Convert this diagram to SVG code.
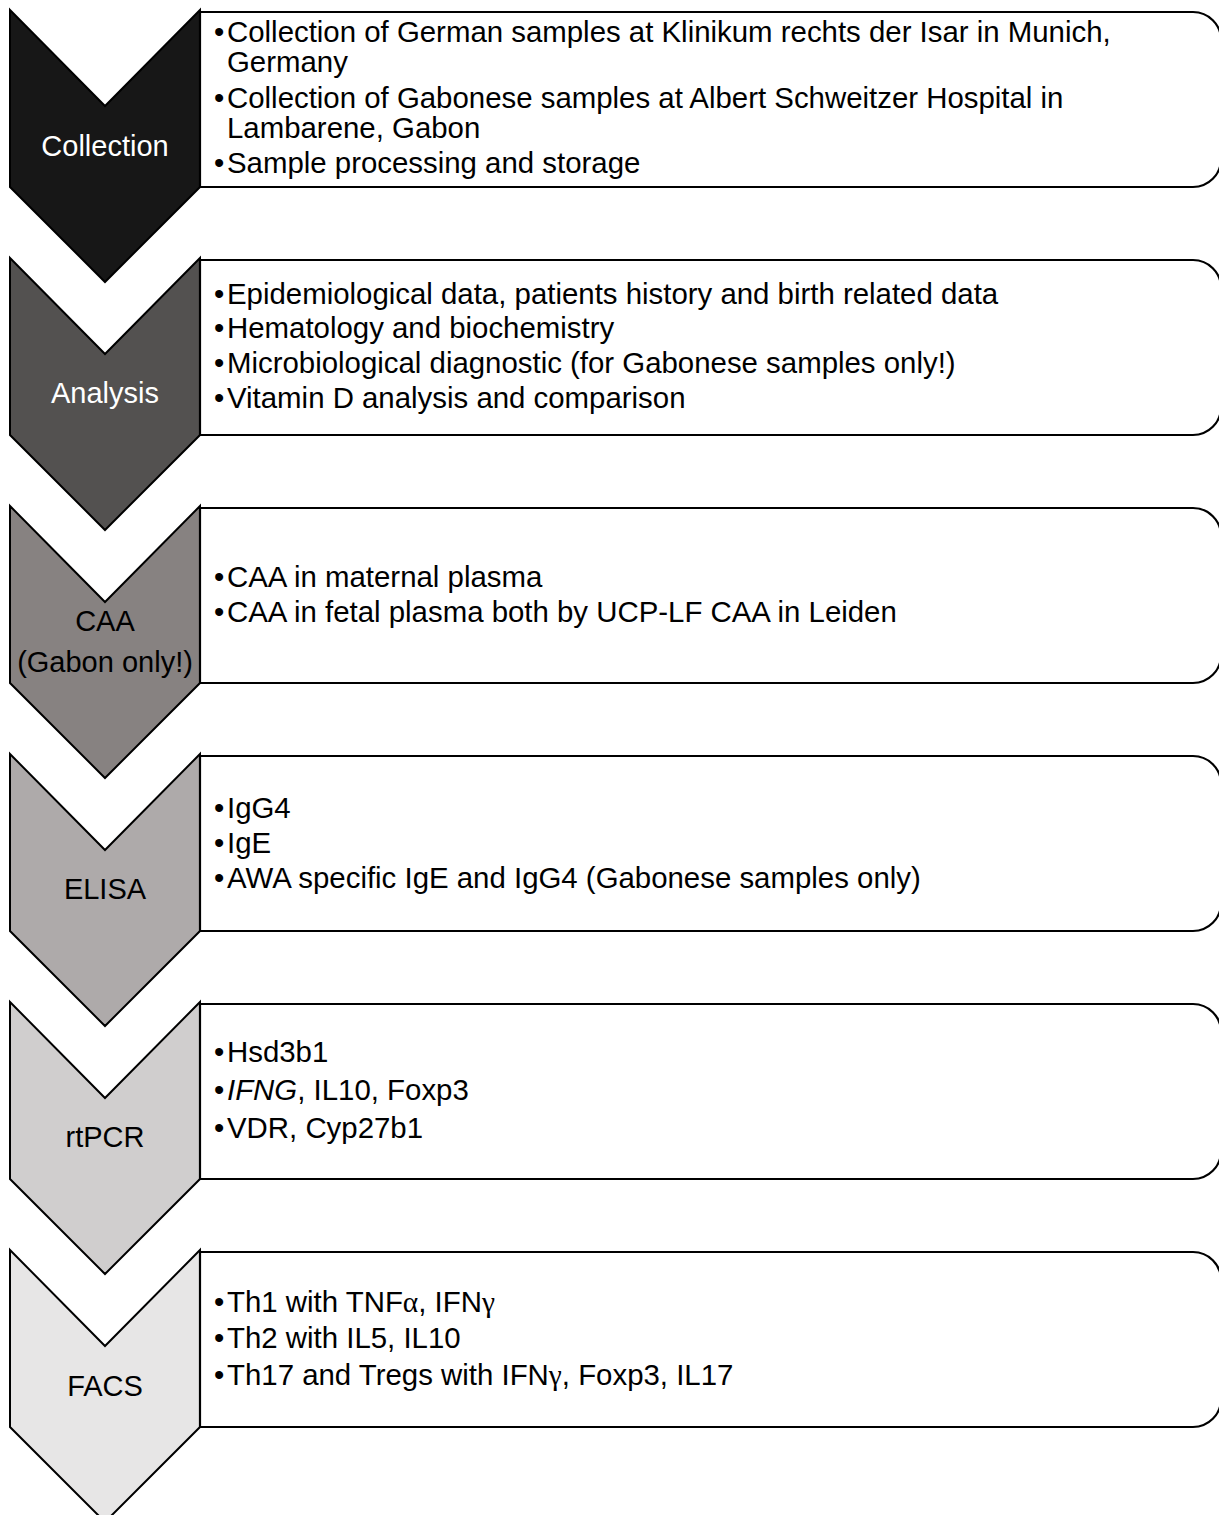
<svg xmlns="http://www.w3.org/2000/svg" width="1219" height="1515" viewBox="0 0 1219 1515">
<style>
.chev{stroke:#000;stroke-width:2;stroke-linejoin:miter}
.box{fill:#fff;stroke:#000;stroke-width:2.2}
text{font-family:"Liberation Sans",Arial,sans-serif;font-size:29.4px;fill:#000}
.lbl{text-anchor:middle;font-size:29px}
.w{fill:#fff}
.g{font-family:"Liberation Serif","Times New Roman",serif}
</style>
<rect width="1219" height="1515" fill="#fff"/>
<g id="connectors"></g>
<g id="collection">
<path class="chev" fill="#171717" d="M10,10 L105,106 L200,10 L200,187 L105,282 L10,187 Z"/>
<path class="box" d="M200,12 H1193 A28,28 0 0 1 1221,40 V159 A28,28 0 0 1 1193,187 H200 Z"/>
<text class="lbl w" x="105" y="156">Collection</text>
<text x="214" y="42">•</text><text x="227" y="42">Collection of German samples at Klinikum rechts der Isar in Munich,</text>
<text x="227" y="72">Germany</text>
<text x="214" y="108">•</text><text x="227" y="108">Collection of Gabonese samples at Albert Schweitzer Hospital in</text>
<text x="227" y="138">Lambarene, Gabon</text>
<text x="214" y="173">•</text><text x="227" y="173">Sample processing and storage</text>
</g>
<g id="analysis">
<path class="chev" fill="#535150" d="M10,258 L105,354 L200,258 L200,435 L105,530 L10,435 Z"/>
<path class="box" d="M200,260 H1193 A28,28 0 0 1 1221,288 V407 A28,28 0 0 1 1193,435 H200 Z"/>
<text class="lbl w" x="105" y="403">Analysis</text>
<text x="214" y="304">•</text><text x="227" y="304">Epidemiological data, patients history and birth related data</text>
<text x="214" y="338">•</text><text x="227" y="338">Hematology and biochemistry</text>
<text x="214" y="373">•</text><text x="227" y="373">Microbiological diagnostic (for Gabonese samples only!)</text>
<text x="214" y="408">•</text><text x="227" y="408">Vitamin D analysis and comparison</text>
</g>
<g id="caa">
<path class="chev" fill="#878281" d="M10,506 L105,602 L200,506 L200,683 L105,778 L10,683 Z"/>
<path class="box" d="M200,508 H1193 A28,28 0 0 1 1221,536 V655 A28,28 0 0 1 1193,683 H200 Z"/>
<text class="lbl" x="105" y="631">CAA</text>
<text class="lbl" x="105" y="672">(Gabon only!)</text>
<text x="214" y="587">•</text><text x="227" y="587">CAA in maternal plasma</text>
<text x="214" y="622">•</text><text x="227" y="622">CAA in fetal plasma both by UCP-LF CAA in Leiden</text>
</g>
<g id="elisa">
<path class="chev" fill="#aeaaaa" d="M10,754 L105,850 L200,754 L200,931 L105,1026 L10,931 Z"/>
<path class="box" d="M200,756 H1193 A28,28 0 0 1 1221,784 V903 A28,28 0 0 1 1193,931 H200 Z"/>
<text class="lbl" x="105" y="899">ELISA</text>
<text x="214" y="818">•</text><text x="227" y="818">IgG4</text>
<text x="214" y="853">•</text><text x="227" y="853">IgE</text>
<text x="214" y="888">•</text><text x="227" y="888">AWA specific IgE and IgG4 (Gabonese samples only)</text>
</g>
<g id="rtpcr">
<path class="chev" fill="#d0cece" d="M10,1002 L105,1098 L200,1002 L200,1179 L105,1274 L10,1179 Z"/>
<path class="box" d="M200,1004 H1193 A28,28 0 0 1 1221,1032 V1151 A28,28 0 0 1 1193,1179 H200 Z"/>
<text class="lbl" x="105" y="1147">rtPCR</text>
<text x="214" y="1062">•</text><text x="227" y="1062">Hsd3b1</text>
<text x="214" y="1100">•</text><text x="227" y="1100"><tspan font-style="italic">IFNG</tspan>, IL10, Foxp3</text>
<text x="214" y="1138">•</text><text x="227" y="1138">VDR, Cyp27b1</text>
</g>
<g id="facs">
<path class="chev" fill="#e7e6e6" d="M10,1250 L105,1346 L200,1250 L200,1427 L105,1522 L10,1427 Z"/>
<path class="box" d="M200,1252 H1193 A28,28 0 0 1 1221,1280 V1399 A28,28 0 0 1 1193,1427 H200 Z"/>
<text class="lbl" x="105" y="1396">FACS</text>
<text x="214" y="1312">•</text><text x="227" y="1312">Th1 with TNF<tspan class="g">α</tspan>, IFN<tspan class="g">γ</tspan></text>
<text x="214" y="1348">•</text><text x="227" y="1348">Th2 with IL5, IL10</text>
<text x="214" y="1385">•</text><text x="227" y="1385">Th17 and Tregs with IFN<tspan class="g">γ</tspan>, Foxp3, IL17</text>
</g>
</svg>
